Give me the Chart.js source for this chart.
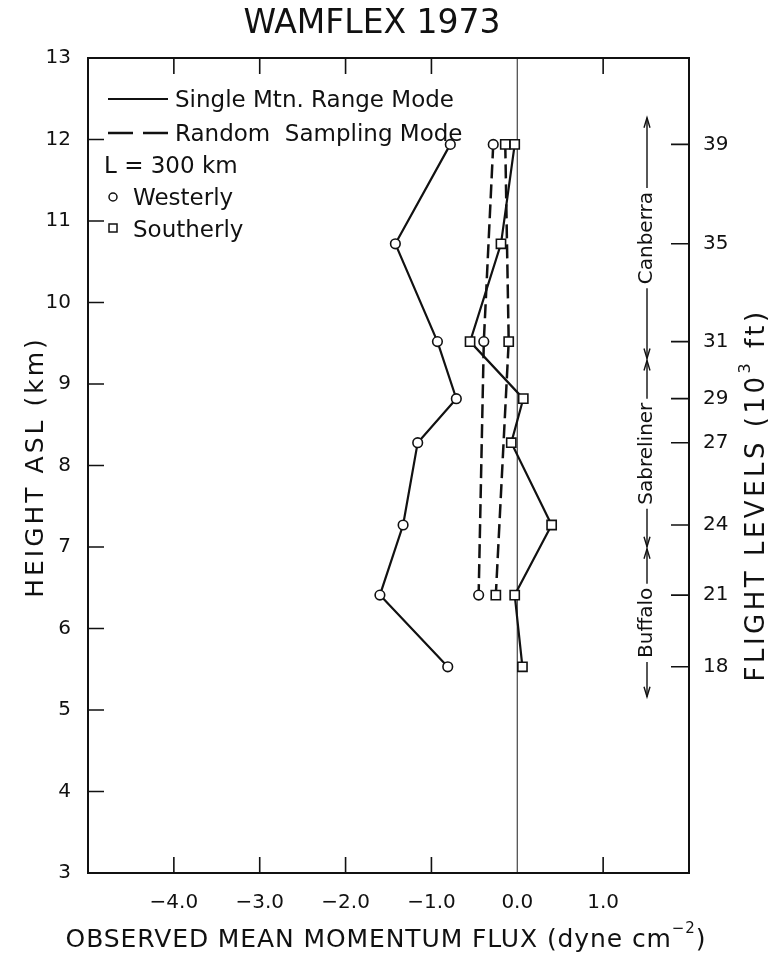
<!DOCTYPE html>
<html>
<head>
<meta charset="utf-8">
<script src="https://cdn.jsdelivr.net/npm/chart.js@4/dist/chart.umd.min.js"></script>
<style>
  body { margin: 0; background: #fff; }
</style>
</head>
<body>
<canvas id="chart" width="779" height="958"></canvas>
<script>
// flight levels (10^3 ft) and the heights they sit at (km ASL)
const flightLevels = [39, 35, 31, 29, 27, 24, 21, 18];
const levelHeights = [11.94, 10.72, 9.52, 8.82, 8.28, 7.27, 6.41, 5.53];

// single mountain range mode, one value per flight level
const singleWesterly = [-0.78, -1.42, -0.93, -0.71, -1.16, -1.33, -1.60, -0.81];
const singleSoutherly = [-0.03, -0.19, -0.55, 0.07, -0.07, 0.40, -0.03, 0.06];

// random sampling mode, only at 39, 31 and 21
const randomHeights = [11.94, 9.52, 6.41];
const randomWesterly = [-0.28, -0.39, -0.45];
const randomSoutherly = [-0.14, -0.10, -0.25];

const fluxTicks = [-4, -3, -2, -1, 0, 1];
const heightTicks = [3, 4, 5, 6, 7, 8, 9, 10, 11, 12, 13];

// aircraft ranges on the right (km)
const aircraft = ['Canberra', 'Sabreliner', 'Buffalo'];
const aircraftTop = [12.28, 9.30, 6.99];
const aircraftBottom = [9.30, 6.99, 5.15];

const FONT = '"DejaVu Sans", sans-serif';
Chart.defaults.font.family = FONT;
Chart.defaults.color = '#111';

const pts = (xs, ys) => xs.map((v, i) => ({ x: v, y: ys[i] }));

function series(data, dashed, shape) {
  return {
    data,
    showLine: true,
    borderColor: '#111',
    borderWidth: dashed ? 2.5 : 2.2,
    borderDash: dashed ? [14, 6] : [],
    pointStyle: shape,
    pointRadius: shape === 'rect' ? 6.5 : 4.8,
    pointBackgroundColor: '#fff',
    pointBorderColor: '#111',
    pointBorderWidth: 1.6,
    tension: 0
  };
}

// text with an optional superscript part, centred on (0,0)
function richText(ctx, parts, size, spacing) {
  ctx.letterSpacing = spacing + 'px';
  let total = 0;
  const widths = parts.map(p => {
    ctx.font = (p.sup ? Math.round(size * 0.6) : size) + 'px ' + FONT;
    const w = ctx.measureText(p.t).width;
    total += w;
    return w;
  });
  let x = -total / 2;
  ctx.textAlign = 'left';
  ctx.textBaseline = 'middle';
  parts.forEach((p, i) => {
    ctx.font = (p.sup ? Math.round(size * 0.6) : size) + 'px ' + FONT;
    ctx.fillText(p.t, x, p.sup ? -size * 0.42 : 0);
    x += widths[i];
  });
  ctx.letterSpacing = '0px';
}

function arrowHead(ctx, x, y, dir) {
  ctx.beginPath();
  ctx.moveTo(x - 3, y - dir * 10);
  ctx.lineTo(x, y);
  ctx.lineTo(x + 3, y - dir * 10);
  ctx.stroke();
}

const decorations = {
  id: 'decorations',
  beforeDatasetsDraw(chart) {
    const { ctx, chartArea: a, scales: { x } } = chart;
    const x0 = x.getPixelForValue(0);
    ctx.save();
    ctx.strokeStyle = '#444';
    ctx.lineWidth = 1.2;
    ctx.beginPath();
    ctx.moveTo(x0, a.top);
    ctx.lineTo(x0, a.bottom);
    ctx.stroke();
    ctx.restore();
  },
  afterDraw(chart) {
    const { ctx, chartArea: a, scales: { x, y } } = chart;
    ctx.save();
    ctx.strokeStyle = '#111';
    ctx.fillStyle = '#111';

    // frame
    ctx.lineWidth = 2;
    ctx.strokeRect(a.left, a.top, a.right - a.left, a.bottom - a.top);

    // inward tick marks
    ctx.lineWidth = 1.6;
    ctx.beginPath();
    heightTicks.slice(1, -1).forEach(v => {
      const py = y.getPixelForValue(v);
      ctx.moveTo(a.left, py);
      ctx.lineTo(a.left + 16, py);
    });
    fluxTicks.forEach(v => {
      if (v === 0) return;
      const px = x.getPixelForValue(v);
      ctx.moveTo(px, a.bottom);
      ctx.lineTo(px, a.bottom - 16);
      ctx.moveTo(px, a.top);
      ctx.lineTo(px, a.top + 16);
    });
    levelHeights.forEach(v => {
      const py = y.getPixelForValue(v);
      ctx.moveTo(a.right, py);
      ctx.lineTo(a.right - 18, py);
    });
    ctx.stroke();

    // title
    ctx.font = '33px ' + FONT;
    ctx.textAlign = 'center';
    ctx.textBaseline = 'alphabetic';
    ctx.fillText('WAMFLEX 1973', 372, 33);

    // axis titles
    ctx.save();
    ctx.translate(386, 940);
    richText(ctx, [{ t: 'OBSERVED MEAN MOMENTUM FLUX (dyne cm' }, { t: '\u22122', sup: true }, { t: ')' }], 25, 0.9);
    ctx.restore();

    ctx.save();
    ctx.translate(36, 467);
    ctx.rotate(-Math.PI / 2);
    richText(ctx, [{ t: 'HEIGHT ASL (km)' }], 25, 3);
    ctx.restore();

    ctx.save();
    ctx.translate(757, 495);
    ctx.rotate(-Math.PI / 2);
    richText(ctx, [{ t: 'FLIGHT LEVELS (10' }, { t: '3', sup: true }, { t: ' ft)' }], 26, 3.5);
    ctx.restore();

    // legend
    ctx.lineWidth = 2.2;
    ctx.beginPath();
    ctx.moveTo(108, 99);
    ctx.lineTo(168, 99);
    ctx.stroke();
    ctx.lineWidth = 2.5;
    ctx.setLineDash([25, 10]);
    ctx.beginPath();
    ctx.moveTo(108, 133);
    ctx.lineTo(168, 133);
    ctx.stroke();
    ctx.setLineDash([]);
    ctx.font = '23px ' + FONT;
    ctx.textAlign = 'left';
    ctx.textBaseline = 'alphabetic';
    ctx.fillText('Single Mtn. Range Mode', 175, 107);
    ctx.fillText('Random  Sampling Mode', 175, 141);
    ctx.fillText('L = 300 km', 104, 173);
    ctx.fillText('Westerly', 133, 205);
    ctx.fillText('Southerly', 133, 237);
    ctx.lineWidth = 1.5;
    ctx.beginPath();
    ctx.arc(113, 197, 4, 0, Math.PI * 2);
    ctx.stroke();
    ctx.strokeRect(109, 224, 8, 8);

    // aircraft ranges
    ctx.lineWidth = 1.4;
    ctx.font = '20px ' + FONT;
    const ax = 647;
    aircraft.forEach((name, i) => {
      const top = y.getPixelForValue(aircraftTop[i]);
      const bot = y.getPixelForValue(aircraftBottom[i]);
      const mid = (top + bot) / 2;
      const half = ctx.measureText(name).width / 2 + 4;
      ctx.beginPath();
      ctx.moveTo(ax, top + 1);
      ctx.lineTo(ax, mid - half);
      ctx.moveTo(ax, mid + half);
      ctx.lineTo(ax, bot - 1);
      ctx.stroke();
      arrowHead(ctx, ax, top + 1, -1);
      arrowHead(ctx, ax, bot - 1, 1);
      ctx.save();
      ctx.translate(ax, mid);
      ctx.rotate(-Math.PI / 2);
      ctx.textAlign = 'center';
      ctx.textBaseline = 'middle';
      ctx.fillText(name, 0, 0);
      ctx.restore();
    });

    ctx.restore();
  }
};

new Chart(document.getElementById('chart'), {
  type: 'scatter',
  data: {
    datasets: [
      series(pts(singleWesterly, levelHeights), false, 'circle'),
      series(pts(singleSoutherly, levelHeights), false, 'rect'),
      series(pts(randomWesterly, randomHeights), true, 'circle'),
      series(pts(randomSoutherly, randomHeights), true, 'rect')
    ]
  },
  options: {
    responsive: false,
    animation: false,
    layout: { padding: { top: 58 } },
    plugins: { legend: { display: false }, tooltip: { enabled: false } },
    scales: {
      x: {
        type: 'linear',
        min: -5,
        max: 2,
        grid: { display: false },
        border: { display: false },
        afterBuildTicks: s => { s.ticks = fluxTicks.map(v => ({ value: v })); },
        afterFit: s => { s.height = 85; },
        ticks: {
          font: { size: 20 },
          padding: 10,
          maxRotation: 0,
          autoSkip: false,
          callback: v => v.toFixed(1).replace('-', '\u2212')
        }
      },
      y: {
        type: 'linear',
        min: 3,
        max: 13,
        grid: { display: false },
        border: { display: false },
        afterBuildTicks: s => { s.ticks = heightTicks.map(v => ({ value: v })); },
        afterFit: s => { s.width = 88; },
        ticks: { font: { size: 20 }, padding: 9, autoSkip: false }
      },
      y2: {
        type: 'linear',
        position: 'right',
        min: 3,
        max: 13,
        grid: { display: false },
        border: { display: false },
        afterBuildTicks: s => { s.ticks = levelHeights.map(v => ({ value: v })); },
        afterFit: s => { s.width = 90; },
        ticks: {
          font: { size: 20 },
          padding: 6,
          autoSkip: false,
          callback: (v, i) => flightLevels[i]
        }
      }
    }
  },
  plugins: [decorations]
});
</script>
</body>
</html>
